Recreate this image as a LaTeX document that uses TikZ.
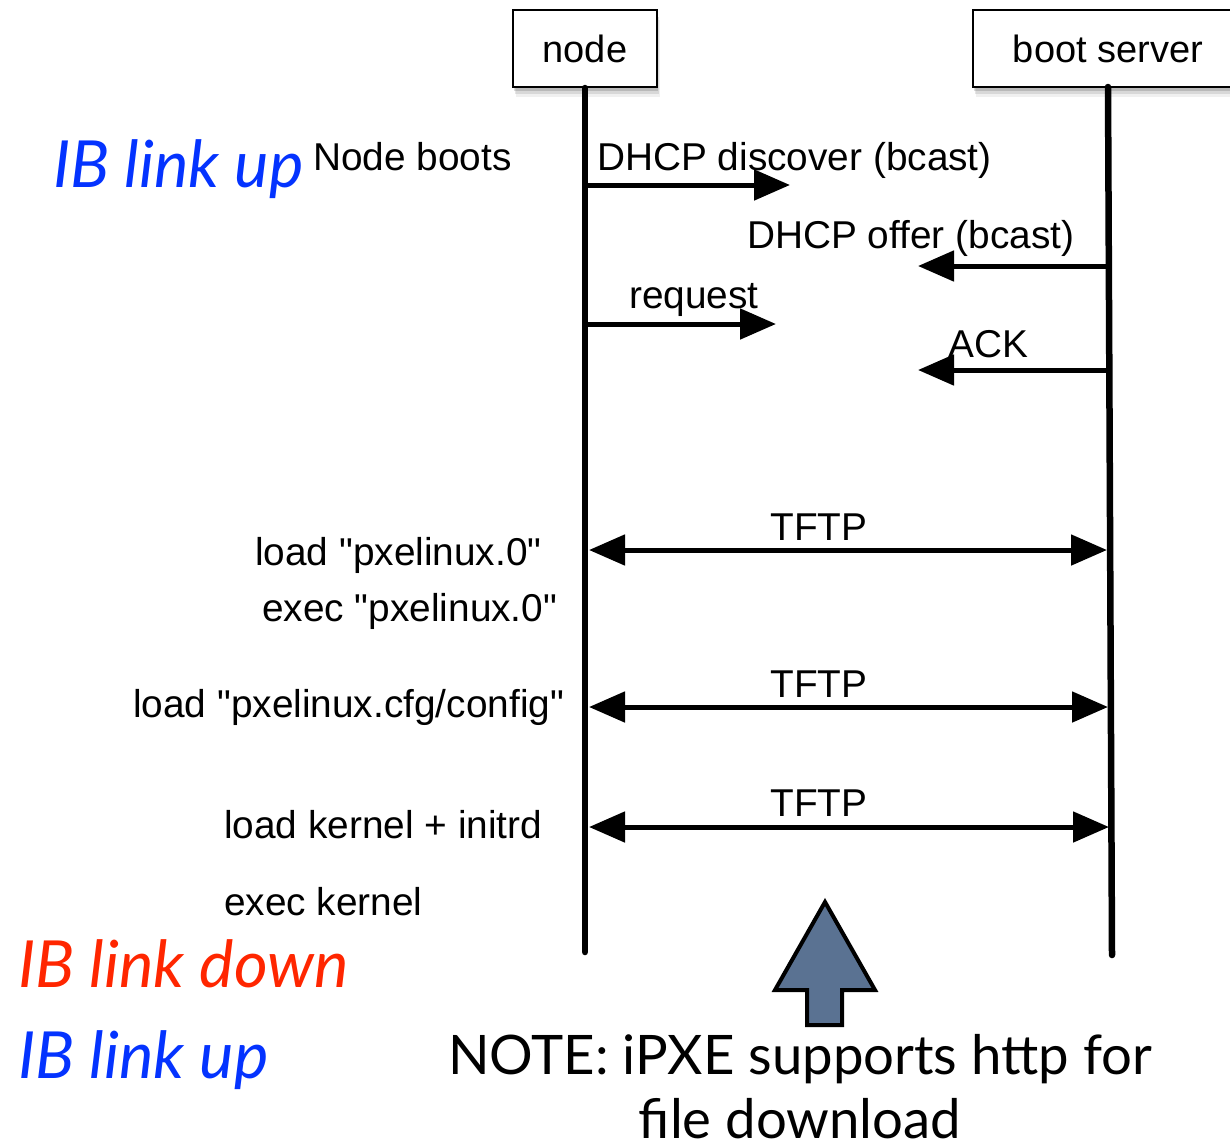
\documentclass[tikz,border=0pt]{standalone}
\usepackage{fontspec}
\setmainfont{Liberation Sans}[Ligatures=TeXOff]
\newfontfamily\gill{Lato}
\usetikzlibrary{arrows.meta,shadows}
\definecolor{ibblue}{HTML}{0433FF}
\definecolor{ibred}{HTML}{FF2600}
\definecolor{bigarrow}{RGB}{90,114,146}
\begin{document}
\begin{tikzpicture}[x=1pt,y=-1pt,
  lbl/.style={font=\fontsize{38.8}{42}\selectfont, inner sep=0pt},
  actor/.style={draw=black, line width=2pt, fill=white, inner sep=0pt,
    font=\fontsize{38}{40}\selectfont,
    general shadow={shadow xshift=1pt, shadow yshift=-4pt, fill=black, opacity=0.14},
    general shadow={shadow xshift=2pt, shadow yshift=-7pt, fill=black, opacity=0.10},
    general shadow={shadow xshift=3pt, shadow yshift=-10pt, fill=black, opacity=0.06}},
  lifeline/.style={line width=6.5pt, line cap=round},
  msg/.style={line width=5pt, -{Triangle[length=36pt,width=30pt]}},
  dmsg/.style={line width=5pt, {Triangle[length=36pt,width=30pt]}-{Triangle[length=36pt,width=30pt]}},
  iblabel/.style={font=\gill\itshape\fontsize{65}{70}\selectfont, inner sep=0pt, anchor=base west}]
\useasboundingbox (0,0) rectangle (1230,1144);
\clip (0,0) rectangle (1230,1144);

% actors
\node[actor, minimum width=144pt, minimum height=77pt] (nodebox) at (585,48.5) {node};
\node[actor, minimum width=270pt, minimum height=77pt] (srvbox) at (1108,48.5) {boot server};

% lifelines
\coordinate (nodeend) at (585,952);
\coordinate (srvtop) at (1108,87);
\coordinate (srvend) at (1112,955);
\draw[lifeline] (nodebox.south) -- (nodeend);
\draw[lifeline] (srvtop) -- (srvend);

% message end points
\coordinate (d1s) at (585,185);  \coordinate (d1e) at (790,185);
\coordinate (o1s) at (1108,266); \coordinate (o1e) at (918,266);
\coordinate (r1s) at (585,324);  \coordinate (r1e) at (776,324);
\coordinate (a1s) at (1108,370); \coordinate (a1e) at (918,370);
\coordinate (t1s) at (589,550);  \coordinate (t1e) at (1107,550);
\coordinate (t2s) at (589,707);  \coordinate (t2e) at (1108,707);
\coordinate (t3s) at (589,827);  \coordinate (t3e) at (1109,827);

\draw[msg] (d1s) -- (d1e);
\draw[msg] (o1s) -- (o1e);
\draw[msg] (r1s) -- (r1e);
\draw[msg] (a1s) -- (a1e);
\draw[dmsg] (t1s) -- (t1e);
\draw[dmsg] (t2s) -- (t2e);
\draw[dmsg] (t3s) -- (t3e);

% message labels
\node[lbl, anchor=base west] (ldisc) at (597,170) {DHCP discover (bcast)};
\node[lbl, anchor=base west] (loffer) at (747,248) {DHCP offer (bcast)};
\node[lbl, anchor=base west] (lreq) at (629,308) {request};
\node[lbl, anchor=base west] (lack) at (948,357) {ACK};
\node[lbl, anchor=base] (lt1) at (819,540) {TFTP};
\node[lbl, anchor=base] (lt2) at (819,697) {TFTP};
\node[lbl, anchor=base] (lt3) at (819,816) {TFTP};

% node-side notes
\node[lbl, anchor=base west] (boots) at (313,170) {Node boots};
\node[lbl, anchor=base west] (n1) at (255,565) {load "pxelinux.0"};
\node[lbl, anchor=base west] (n2) at (262,621) {exec "pxelinux.0"};
\node[lbl, anchor=base west] (n3) at (133,717) {load "pxelinux.cfg/config"};
\node[lbl, anchor=base west] (n4) at (224,838) {load kernel + initrd};
\node[lbl, anchor=base west] (n5) at (224,915) {exec kernel};

% IB link status
\node[iblabel, text=ibblue] (ib1) at (53,187) {IB link up};
\node[iblabel, text=ibred] (ib2) at (18,987) {IB link down};
\node[iblabel, text=ibblue] (ib3) at (18,1078) {IB link up};

% big arrow
\draw[line width=4pt, fill=bigarrow, line join=miter]
  (825,902) -- (875,990) -- (842,990) -- (842,1025) -- (807,1025) -- (807,990) -- (775,990) -- cycle;

% note
\node[font=\gill\fontsize{54.5}{64}\selectfont, align=center, inner sep=0pt, anchor=base] (note) at (800,1138)
  {NOTE: iPXE supports http for\\file download};
\end{tikzpicture}
\end{document}
